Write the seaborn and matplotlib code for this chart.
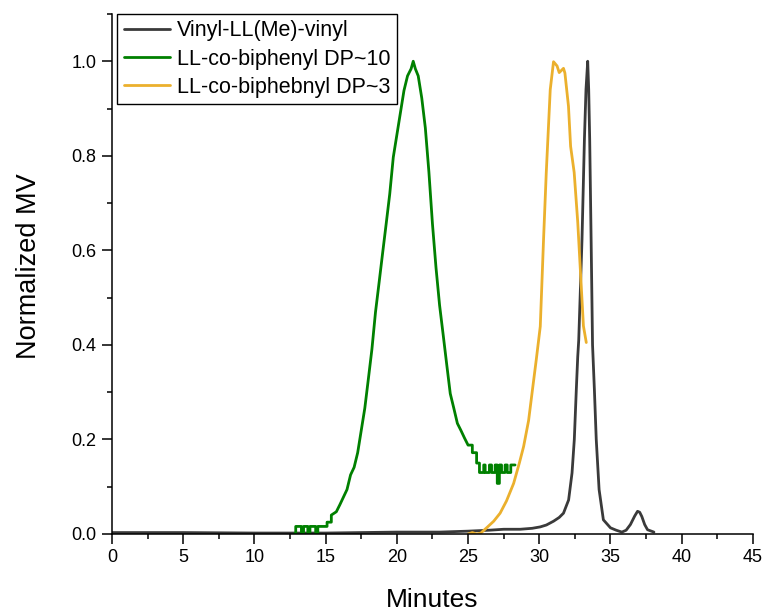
import numpy as np
import pandas as pd
import matplotlib
matplotlib.use("Agg")
import matplotlib.pyplot as plt
import seaborn as sns
from matplotlib.ticker import MultipleLocator

# ---- data ----
black_label = "Vinyl-LL(Me)-vinyl"
black_t = [0.0, 5.0, 10.0, 15.0, 20.0, 23.0, 25.0, 26.5, 27.5, 28.66, 29.5, 30.07, 30.5, 31.0,
           31.4, 31.7, 32.06, 32.3, 32.46, 32.6, 32.7, 32.77, 33.0, 33.17, 33.28, 33.4, 33.47,
           33.54, 33.64, 33.74, 33.87, 34.0, 34.2, 34.5, 35.0, 35.4, 35.8, 36.1, 36.4, 36.7,
           36.9, 37.05, 37.2, 37.4, 37.6, 38.05]
black_v = [0.003, 0.003, 0.002, 0.002, 0.004, 0.004, 0.006, 0.008, 0.010, 0.010, 0.012, 0.015,
           0.019, 0.027, 0.035, 0.044, 0.072, 0.129, 0.200, 0.305, 0.375, 0.410, 0.623, 0.835,
           0.940, 1.000, 0.940, 0.835, 0.623, 0.400, 0.305, 0.200, 0.094, 0.030, 0.013, 0.008,
           0.004, 0.008, 0.020, 0.038, 0.048, 0.046, 0.037, 0.020, 0.009, 0.004]

green_label = "LL-co-biphenyl DP~10"
green_t = [12.8, 12.9, 12.9, 13.3, 13.3, 13.45, 13.45, 13.75, 13.75, 13.9,
           13.9, 14.3, 14.3, 14.45, 14.45, 15.1, 15.1, 15.4, 15.4,
           15.75, 16.0, 16.25, 16.5, 16.75, 17.0, 17.25,
           17.5, 17.75, 18.0, 18.25, 18.5, 18.75, 19.0, 19.25, 19.5, 19.75,
           20.0, 20.25, 20.5, 20.75, 21.0, 21.15, 21.3, 21.5, 21.75, 22.0,
           22.25, 22.5, 22.75, 23.0, 23.25, 23.5, 23.75, 24.0, 24.25, 24.5,
           24.75, 25.0,
           25.3, 25.3, 25.6, 25.6, 25.8, 25.8, 26.1, 26.1, 26.2, 26.2,
           26.5, 26.5, 26.65, 26.65, 26.9, 26.9, 27.05, 27.05, 27.2, 27.2,
           27.35, 27.35, 27.6, 27.6, 27.75, 27.75, 28.0, 28.0, 28.3]
green_v = [0.0, 0.0, 0.016, 0.016, 0.0, 0.0, 0.016, 0.016, 0.0, 0.0,
           0.016, 0.016, 0.0, 0.0, 0.016, 0.016, 0.025, 0.025, 0.040,
           0.047, 0.062, 0.078, 0.094, 0.125, 0.141, 0.172,
           0.219, 0.266, 0.328, 0.391, 0.469, 0.531, 0.594, 0.656, 0.719, 0.797,
           0.844, 0.891, 0.938, 0.969, 0.984, 1.0, 0.984, 0.969, 0.922, 0.859,
           0.766, 0.656, 0.563, 0.484, 0.422, 0.359, 0.297, 0.266, 0.234, 0.219,
           0.203, 0.188,
           0.188, 0.172, 0.172, 0.150, 0.150, 0.130, 0.130, 0.146, 0.146, 0.130,
           0.130, 0.146, 0.146, 0.130, 0.130, 0.146, 0.146, 0.107, 0.107, 0.146,
           0.146, 0.130, 0.130, 0.146, 0.146, 0.130, 0.130, 0.146, 0.146]

yellow_label = "LL-co-biphebnyl DP~3"
yellow_t = [25.0, 25.3, 25.6, 25.9, 26.3, 26.8, 27.25, 27.7, 28.2, 28.6, 28.9, 29.25, 29.5,
            29.79, 30.07, 30.3, 30.49, 30.77, 31.0, 31.25, 31.4, 31.7, 31.8, 32.05, 32.2,
            32.45, 32.7, 32.9, 33.1, 33.3]
yellow_v = [0.0, 0.003, 0.0, 0.002, 0.013, 0.027, 0.044, 0.070, 0.107, 0.150, 0.185, 0.240,
            0.300, 0.369, 0.439, 0.623, 0.764, 0.940, 0.999, 0.990, 0.976, 0.985, 0.975,
            0.905, 0.820, 0.765, 0.660, 0.550, 0.440, 0.405]

x_ticks = [0, 5, 10, 15, 20, 25, 30, 35, 40, 45]
y_ticks = [0.0, 0.2, 0.4, 0.6, 0.8, 1.0]

colors = {black_label: "#3a3a3a", green_label: "#008000", yellow_label: "#EBB02D"}

# ---- plot ----
sns.set_theme(style="ticks")
plt.rcParams["font.family"] = ["Liberation Sans", "DejaVu Sans"]
plt.rcParams["text.color"] = "black"
plt.rcParams["axes.labelcolor"] = "black"

fig = plt.figure(figsize=(7.65, 6.13), dpi=100)
ax = fig.add_axes([0.1464, 0.1289, 0.8378, 0.8483])

df_b = pd.DataFrame({"Minutes": black_t, "MV": black_v})
df_g = pd.DataFrame({"Minutes": green_t, "MV": green_v})
df_y = pd.DataFrame({"Minutes": yellow_t, "MV": yellow_v})

lw = 2.0
sns.lineplot(data=df_b, x="Minutes", y="MV", ax=ax, color=colors[black_label],
             lw=lw, label=black_label, errorbar=None, estimator=None, sort=False)
sns.lineplot(data=df_g, x="Minutes", y="MV", ax=ax, color=colors[green_label],
             lw=lw, label=green_label, errorbar=None, estimator=None, sort=False)
sns.lineplot(data=df_y, x="Minutes", y="MV", ax=ax, color=colors[yellow_label],
             lw=lw, label=yellow_label, errorbar=None, estimator=None, sort=False)

ax.set_xlim(0, 45)
ax.set_ylim(0, 1.1)
ax.set_xticks(x_ticks)
ax.set_yticks(y_ticks)
ax.set_xticklabels([str(v) for v in x_ticks])
ax.set_yticklabels([f"{v:.1f}" for v in y_ticks])
ax.xaxis.set_minor_locator(MultipleLocator(2.5))
ax.yaxis.set_minor_locator(MultipleLocator(0.1))

sns.despine(ax=ax)
for s in ["left", "bottom"]:
    ax.spines[s].set_linewidth(1.1)
    ax.spines[s].set_color("black")

ax.tick_params(which="major", direction="out", length=7, width=1.1, labelsize=13,
               colors="black", pad=4)
ax.tick_params(which="minor", direction="out", length=3.5, width=1.1, colors="black")

ax.set_xlabel("Minutes", fontsize=19, labelpad=16, color="black")
ax.set_ylabel("Normalized MV", fontsize=19.5, labelpad=21, color="black")
ax.yaxis.label.set_y(0.515)

leg = ax.legend(loc="upper left", bbox_to_anchor=(0.008, 1.0), borderaxespad=0,
                fontsize=15.5, frameon=True, fancybox=False, framealpha=1,
                edgecolor="black", handlelength=2.15, handletextpad=0.35,
                labelspacing=0.33, borderpad=0.3)
leg.get_frame().set_linewidth(1.0)
for line in leg.get_lines():
    line.set_linewidth(lw)
for txt in leg.get_texts():
    txt.set_color("black")

fig.savefig("out.png", dpi=100)
